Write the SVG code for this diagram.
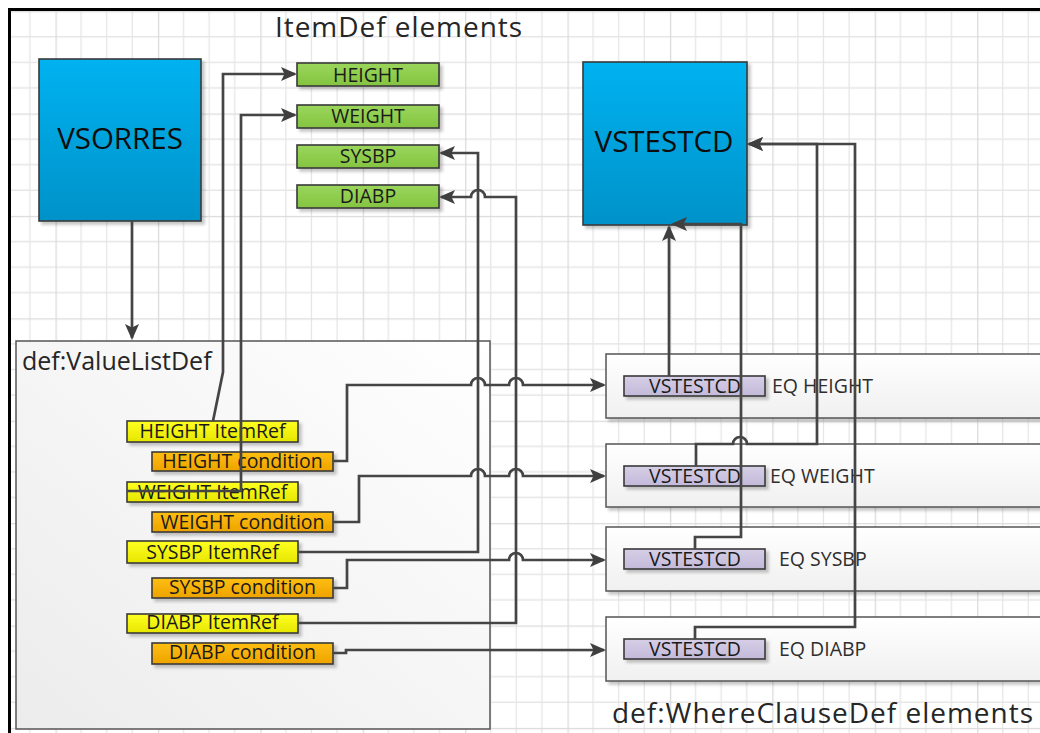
<svg xmlns="http://www.w3.org/2000/svg" width="1040" height="733" viewBox="0 0 1040 733">
<defs>
<style>
text{font-family:"Open Sans","Noto Sans",sans-serif;fill:#1a1a1a}
.big{font-size:29.5px;text-anchor:middle;fill:#0d0d0d}
.lbl{font-size:19.5px;text-anchor:middle}
.eq{font-size:19.5px;fill:#2e2e2e}
.title{font-size:28px;fill:#262626}
.bx{stroke:#3a3a3a;stroke-width:1.6}
.c{fill:none;stroke:#454545;stroke-width:2.7;stroke-linejoin:miter}
.a{marker-end:url(#arr)}
.sh{filter:url(#shadow)}
</style>
<pattern id="grid" patternUnits="userSpaceOnUse" x="-46.9" y="11.1" width="102.4" height="102.4">
<path d="M25.6,0V102.4M51.2,0V102.4M76.8,0V102.4M0,25.6H102.4M0,51.2H102.4M0,76.8H102.4" stroke="#e6e6e6" stroke-width="1.3"/>
<path d="M0.6,0V102.4M0,0.6H102.4" stroke="#dbdbdb" stroke-width="1.4"/>
</pattern>
<linearGradient id="blue" x1="0" y1="0" x2="0" y2="1"><stop offset="0" stop-color="#00b2f0"/><stop offset="1" stop-color="#0092c9"/></linearGradient>
<linearGradient id="green" x1="0" y1="0" x2="0" y2="1"><stop offset="0" stop-color="#9ad65c"/><stop offset="1" stop-color="#84c440"/></linearGradient>
<linearGradient id="yellow" x1="0" y1="0" x2="0" y2="1"><stop offset="0" stop-color="#ffff22"/><stop offset="1" stop-color="#e6e600"/></linearGradient>
<linearGradient id="orange" x1="0" y1="0" x2="0" y2="1"><stop offset="0" stop-color="#ffbe10"/><stop offset="1" stop-color="#eda300"/></linearGradient>
<linearGradient id="lav" x1="0" y1="0" x2="0" y2="1"><stop offset="0" stop-color="#d6cfe6"/><stop offset="1" stop-color="#c3b9da"/></linearGradient>
<linearGradient id="pale" x1="1" y1="0" x2="0" y2="1"><stop offset="0" stop-color="#ffffff"/><stop offset="1" stop-color="#ececec"/></linearGradient>
<linearGradient id="pale2" x1="0" y1="0" x2="0" y2="1"><stop offset="0" stop-color="#ffffff"/><stop offset="1" stop-color="#f0f0f0"/></linearGradient>
<filter id="shadow" x="-10%" y="-10%" width="130%" height="140%"><feDropShadow dx="3" dy="3" stdDeviation="1.5" flood-color="#000" flood-opacity="0.22"/></filter>
<marker id="arr" viewBox="0 0 16 14" refX="14" refY="7" markerWidth="16" markerHeight="14" markerUnits="userSpaceOnUse" orient="auto"><path d="M0,0L16,7L0,14L3.5,7z" fill="#3f3f3f"/></marker>
</defs>
<rect width="1040" height="733" fill="#fff"/>
<rect x="11" y="11" width="1029" height="722" fill="url(#grid)"/>
<path d="M9.5,733V9.5H1040" fill="none" stroke="#000" stroke-width="3"/>

<text class="title" x="275" y="37" textLength="247" lengthAdjust="spacing">ItemDef elements</text>
<text class="title" x="612" y="723" textLength="421" lengthAdjust="spacing">def:WhereClauseDef elements</text>

<g id="vsorres"><rect class="bx sh" x="39" y="59" width="162" height="162" fill="url(#blue)"/><text class="big" x="120" y="149">VSORRES</text></g>
<g id="vstestcd"><rect class="bx sh" x="583" y="62" width="164" height="163" fill="url(#blue)"/><text class="big" x="664" y="152">VSTESTCD</text></g>

<g id="itemdef-height"><rect class="bx sh" x="297" y="63" width="142" height="23" fill="url(#green)"/><text class="lbl" x="368" y="81.5">HEIGHT</text></g>
<g id="itemdef-weight"><rect class="bx sh" x="297" y="105" width="142" height="23" fill="url(#green)"/><text class="lbl" x="368" y="122.5">WEIGHT</text></g>
<g id="itemdef-sysbp"><rect class="bx sh" x="297" y="145" width="142" height="23" fill="url(#green)"/><text class="lbl" x="368" y="162.5">SYSBP</text></g>
<g id="itemdef-diabp"><rect class="bx sh" x="297" y="185" width="142" height="23" fill="url(#green)"/><text class="lbl" x="368" y="202.5">DIABP</text></g>

<g id="valuelistdef"><rect x="16" y="341" width="474" height="388" fill="url(#pale)" stroke="#555" stroke-width="1.5"/><text x="22" y="370" style="font-size:25px;fill:#262626">def:ValueListDef</text></g>

<g id="height-itemref"><rect class="bx sh" x="127" y="421" width="171" height="21" fill="url(#yellow)"/><text class="lbl" x="212.5" y="438.3">HEIGHT ItemRef</text></g>
<g id="height-condition"><rect class="bx sh" x="152" y="452" width="181" height="19" fill="url(#orange)"/><text class="lbl" x="242.5" y="467.5">HEIGHT condition</text></g>
<g id="weight-itemref"><rect class="bx sh" x="127" y="482" width="171" height="20" fill="url(#yellow)"/><text class="lbl" x="212.5" y="498.5">WEIGHT ItemRef</text></g>
<g id="weight-condition"><rect class="bx sh" x="152" y="512" width="181" height="20" fill="url(#orange)"/><text class="lbl" x="242.5" y="528.5">WEIGHT condition</text></g>
<g id="sysbp-itemref"><rect class="bx sh" x="127" y="541" width="171" height="22" fill="url(#yellow)"/><text class="lbl" x="212.5" y="558.5">SYSBP ItemRef</text></g>
<g id="sysbp-condition"><rect class="bx sh" x="152" y="578" width="181" height="20" fill="url(#orange)"/><text class="lbl" x="242.5" y="593.5">SYSBP condition</text></g>
<g id="diabp-itemref"><rect class="bx sh" x="127" y="614" width="171" height="19" fill="url(#yellow)"/><text class="lbl" x="212.5" y="629.3">DIABP ItemRef</text></g>
<g id="diabp-condition"><rect class="bx sh" x="152" y="643" width="181" height="21" fill="url(#orange)"/><text class="lbl" x="242.5" y="659.3">DIABP condition</text></g>

<g id="where-height"><rect class="sh" x="606" y="354" width="450" height="64" fill="url(#pale2)" stroke="#555" stroke-width="1.5"/><rect class="bx sh" x="624" y="376" width="141" height="20" fill="url(#lav)"/><text class="lbl" x="695" y="393">VSTESTCD</text><text class="eq" x="772" y="393">EQ HEIGHT</text></g>
<g id="where-weight"><rect class="sh" x="606" y="444" width="450" height="63" fill="url(#pale2)" stroke="#555" stroke-width="1.5"/><rect class="bx sh" x="624" y="466" width="141" height="20" fill="url(#lav)"/><text class="lbl" x="695" y="483">VSTESTCD</text><text class="eq" x="770" y="483">EQ WEIGHT</text></g>
<g id="where-sysbp"><rect class="sh" x="606" y="527" width="450" height="64" fill="url(#pale2)" stroke="#555" stroke-width="1.5"/><rect class="bx sh" x="624" y="549" width="141" height="20" fill="url(#lav)"/><text class="lbl" x="695" y="566">VSTESTCD</text><text class="eq" x="779" y="566">EQ SYSBP</text></g>
<g id="where-diabp"><rect class="sh" x="606" y="617" width="450" height="64" fill="url(#pale2)" stroke="#555" stroke-width="1.5"/><rect class="bx sh" x="624" y="639" width="141" height="20" fill="url(#lav)"/><text class="lbl" x="695" y="656">VSTESTCD</text><text class="eq" x="779" y="656">EQ DIABP</text></g>

<g id="connectors">
<path class="c a" d="M132,221V338"/>
<path class="c a" d="M213,421L223,372V74H295"/>
<path class="c a" d="M127,491H241V115H295"/>
<path class="c a" d="M298,552H478V153H441"/>
<path class="c a" d="M298,623H516V197H485a7,7 0 0 0 -14,0H441"/>
<path class="c a" d="M333,461H347V385H471a7,7 0 0 1 14,0H509a7,7 0 0 1 14,0H604"/>
<path class="c a" d="M333,522H359V476H471a7,7 0 0 1 14,0H509a7,7 0 0 1 14,0H604"/>
<path class="c a" d="M333,588H347V560H509a7,7 0 0 1 14,0H604"/>
<path class="c a" d="M333,653H346V650H604"/>
<path class="c a" d="M669,376V227"/>
<path class="c a" d="M696,466V444H733a7,7 0 0 1 14,0H817V144H749"/>
<path class="c a" d="M695,549V537H741V224H673"/>
<path class="c a" d="M695,639V627H855V144H749"/>
</g>
</svg>
